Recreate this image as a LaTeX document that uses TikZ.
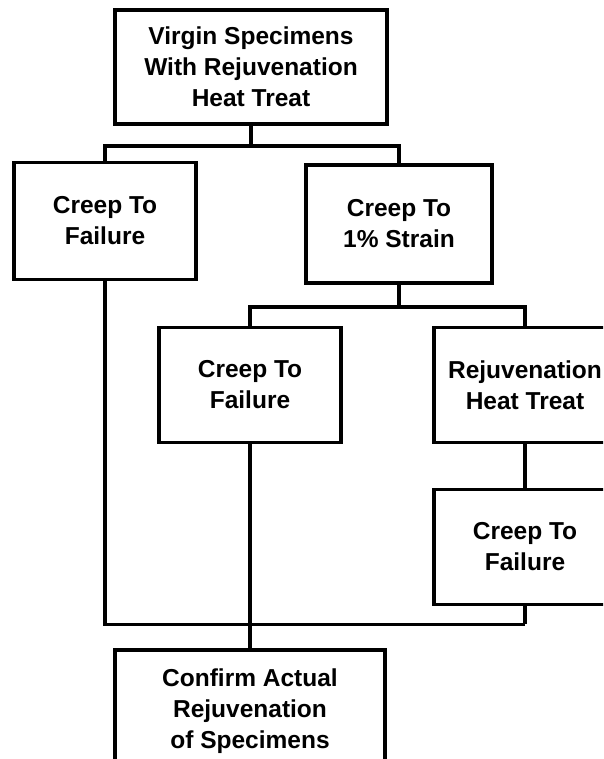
\documentclass[tikz,border=0pt]{standalone}
\usepackage{fontspec}
\setmainfont{Liberation Sans}
\usetikzlibrary{positioning}

\begin{document}
\begin{tikzpicture}[
    x=1pt, y=1pt,
    box/.style={draw, line width=3.8pt, minimum width=182pt, minimum height=115pt, align=center,
                font=\fontsize{24.5}{31}\selectfont\bfseries},
    link/.style={line width=3.4pt}
]
\useasboundingbox (0,0) rectangle (603,-759);
\clip (0,0) rectangle (603,-759);

\node[box, minimum width=272pt, minimum height=114pt] (virgin) at (251,-67) {Virgin Specimens\\With Rejuvenation\\Heat Treat};
\node[box, minimum height=117pt] (failA) at (105,-221) {Creep To\\Failure};
\node[box, minimum width=186pt, minimum height=118pt] (strain) at (399,-224) {Creep To\\1\% Strain};
\node[box] (failB) at (250,-385) {Creep To\\Failure};
\node[box] (rejuv) at (525,-385) {Rejuvenation\\Heat Treat};
\node[box] (failC) at (525,-547) {Creep To\\Failure};
\node[box, minimum width=270pt, minimum height=122pt] (confirm) at (250,-711) {Confirm Actual\\Rejuvenation\\of Specimens};

\draw[link] (virgin.south) -- ++(0,-20) coordinate (splitA);
\draw[link] (failA.north) |- (splitA) -| (strain.north);
\draw[link] (strain.south) -- ++(0,-22) coordinate (splitB);
\draw[link] (failB.north) |- (splitB) -| (rejuv.north);
\draw[link] (rejuv.south) -- (failC.north);
\draw[link] (failC.south) -- ++(0,-18) coordinate (joinC);
\draw[link] (failA.south) |- (joinC);
\draw[link] (failB.south) -- (confirm.north);
\end{tikzpicture}
\end{document}
